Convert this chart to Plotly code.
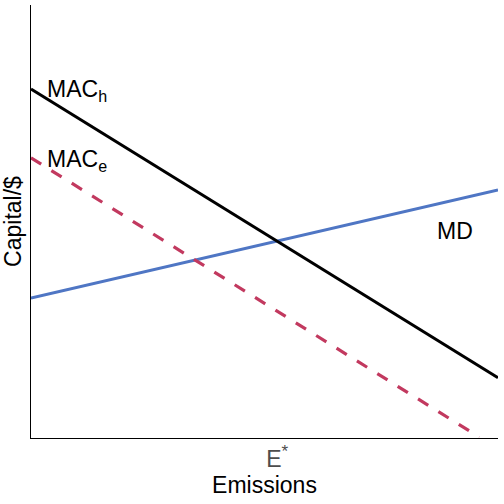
import plotly.graph_objects as go

# curve end points (emissions, $)
mac_h_x = [0, 10]
mac_h_y = [8.06, 1.39]
mac_e_x = [0, 9.6]
mac_e_y = [6.47, 0.02]
md_x = [0, 10]
md_y = [3.23, 5.73]
e_star = 5.27

fig = go.Figure()
fig.add_trace(go.Scatter(x=md_x, y=md_y, mode="lines",
                         line=dict(color="#4f76c4", width=3)))
fig.add_trace(go.Scatter(x=mac_e_x, y=mac_e_y, mode="lines",
                         line=dict(color="#c2395f", width=3.2, dash="12px,12px")))
fig.add_trace(go.Scatter(x=mac_h_x, y=mac_h_y, mode="lines",
                         line=dict(color="black", width=3)))

lab = dict(showarrow=False, font=dict(size=23, color="black"), xanchor="left")
fig.add_annotation(x=0.3, y=8.03, text="MAC<sub>h</sub>", **lab)
fig.add_annotation(x=0.3, y=6.42, text="MAC<sub>e</sub>", **lab)
fig.add_annotation(x=8.65, y=4.78, text="MD", **lab)

fig.update_layout(
    width=504, height=504,
    margin=dict(l=31, r=6, t=5, b=66),
    plot_bgcolor="white", paper_bgcolor="white",
    showlegend=False,
    font=dict(family="Liberation Sans, Arial, sans-serif", size=23, color="black"),
)
fig.update_xaxes(range=[0, 10], showgrid=False, zeroline=False, automargin=False,
                 showline=True, linecolor="black", linewidth=1.2,
                 tickmode="array", tickvals=[e_star],
                 ticktext=["E<sup><span style='font-size:17px'>*</span></sup>"],
                 ticks="", tickfont=dict(size=23, color="#4d4d4d"),
                 title=dict(text="Emissions", standoff=0, font=dict(size=23)))
fig.update_yaxes(range=[0, 10], showgrid=False, zeroline=False, automargin=False,
                 showline=True, linecolor="black", linewidth=1.2,
                 showticklabels=False, ticks="",
                 title=dict(text="Capital/$", standoff=1, font=dict(size=23)))

fig.write_html("out.html", config={"displayModeBar": False},
               post_script="document.body.style.margin='0';")
